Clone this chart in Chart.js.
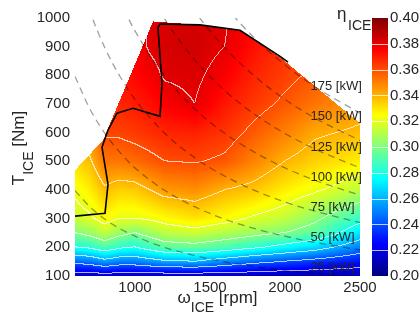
<!DOCTYPE html>
<html>
<head>
<meta charset="utf-8">
<script src="https://cdn.jsdelivr.net/npm/chart.js@4.4.1/dist/chart.umd.min.js"></script>
<style>
  html, body { margin: 0; padding: 0; background: #fff; }
  #wrap { width: 420px; height: 320px; }
</style>
</head>
<body>
<div id="wrap"><canvas id="map" width="420" height="320"></canvas></div>
<script>
// ICE efficiency map
const effRpm = [600, 700, 800, 900, 1000, 1100, 1200, 1400, 1600, 1800, 2000, 2200, 2500];
const effTorque = [100, 150, 200, 250, 300, 400, 500, 600, 700, 800, 900, 1000];
const effRows = [
    [0.212, 0.212, 0.214, 0.212, 0.212, 0.212, 0.212, 0.212, 0.212, 0.211, 0.210, 0.210, 0.210],
    [0.245, 0.248, 0.255, 0.250, 0.250, 0.254, 0.258, 0.260, 0.252, 0.245, 0.240, 0.235, 0.228],
    [0.280, 0.283, 0.290, 0.283, 0.280, 0.287, 0.293, 0.295, 0.290, 0.283, 0.275, 0.268, 0.250],
    [0.300, 0.305, 0.313, 0.305, 0.300, 0.306, 0.312, 0.315, 0.310, 0.305, 0.300, 0.293, 0.270],
    [0.315, 0.318, 0.325, 0.320, 0.320, 0.322, 0.325, 0.330, 0.325, 0.318, 0.313, 0.303, 0.285],
    [0.322, 0.328, 0.338, 0.334, 0.335, 0.340, 0.345, 0.347, 0.340, 0.336, 0.328, 0.322, 0.312],
    [0.332, 0.338, 0.352, 0.352, 0.354, 0.357, 0.360, 0.361, 0.358, 0.349, 0.340, 0.334, 0.328],
    [0.340, 0.348, 0.362, 0.362, 0.364, 0.366, 0.368, 0.369, 0.365, 0.357, 0.350, 0.342, 0.338],
    [0.345, 0.353, 0.366, 0.368, 0.370, 0.372, 0.376, 0.380, 0.371, 0.364, 0.358, 0.352, 0.345],
    [0.350, 0.357, 0.369, 0.372, 0.374, 0.377, 0.381, 0.382, 0.376, 0.368, 0.363, 0.358, 0.348],
    [0.352, 0.360, 0.371, 0.374, 0.376, 0.381, 0.383, 0.384, 0.380, 0.372, 0.365, 0.360, 0.350],
    [0.355, 0.362, 0.372, 0.375, 0.377, 0.381, 0.382, 0.384, 0.381, 0.374, 0.365, 0.360, 0.350]
];
const effLevels = [0.20, 0.22, 0.24, 0.26, 0.28, 0.30, 0.32, 0.34, 0.36, 0.38, 0.40];

// full load curve
const maxRpm = [600, 787, 1120, 1433, 1700, 1967, 2233, 2500];
const maxNm = [469, 574, 988, 976, 957, 863, 748, 633];

// optimal operating line
const optRpm = [600, 800, 820, 780, 820, 880, 987, 1167, 1180, 1153, 1167, 1433, 1700, 1967, 2020];
const optNm = [309, 319, 420, 549, 609, 668, 685, 657, 772, 967, 979, 976, 957, 866, 846];

// constant power lines
const powerRpm = [600, 700, 800, 900, 1000, 1200, 1400, 1600, 1800, 2000, 2200, 2500];
const powerNames = ['25 [kW]', '50 [kW]', '75 [kW]', '100 [kW]', '125 [kW]', '150 [kW]', '175 [kW]'];
const powerNm = [
    [398, 341, 298, 265, 239, 199, 171, 149, 133, 119, 109, 95.5],
    [796, 682, 597, 531, 477, 398, 341, 298, 265, 239, 217, 191],
    [1194, 1023, 895, 796, 716, 597, 512, 448, 398, 358, 326, 286],
    [1592, 1364, 1194, 1061, 955, 796, 682, 597, 531, 477, 434, 382],
    [1989, 1705, 1492, 1326, 1194, 995, 853, 746, 663, 597, 543, 477],
    [2387, 2046, 1791, 1592, 1432, 1194, 1023, 895, 796, 716, 651, 573],
    [2785, 2387, 2089, 1857, 1671, 1393, 1194, 1044, 928, 836, 760, 668]
];

const xTicks = [1000, 1500, 2000, 2500];
const FONT = "'Liberation Sans', Arial, sans-serif";
const TEXT = '#262626';

function jet(v) {
    const t = Math.min(1, Math.max(0, (v - 0.20) / 0.20));
    const c = k => Math.round(255 * Math.min(1, Math.max(0, 1.5 - Math.abs(4 * t - k))));
    return [c(3), c(2), c(1)];
}

function locate(arr, v) {
    let i = 0;
    while (i < arr.length - 2 && v > arr[i + 1]) i++;
    const f = Math.min(1, Math.max(0, (v - arr[i]) / (arr[i + 1] - arr[i])));
    return [i, f];
}

function lookup(xs, ys, v) {
    const [i, f] = locate(xs, v);
    return ys[i] + (ys[i + 1] - ys[i]) * f;
}

function effAt(rpm, nm) {
    const [i, fx] = locate(effRpm, rpm);
    const [j, fy] = locate(effTorque, nm);
    const lo = effRows[j][i] * (1 - fx) + effRows[j][i + 1] * fx;
    const hi = effRows[j + 1][i] * (1 - fx) + effRows[j + 1][i + 1] * fx;
    return lo * (1 - fy) + hi * fy;
}

function levelOf(v) {
    let k = -1;
    effLevels.forEach((l, n) => { if (v >= l) k = n; });
    return k;
}

// filled map + white iso lines, clipped to the full load curve
const mapPlugin = {
    id: 'effMap',
    beforeDatasetsDraw(chart) {
        const { ctx, chartArea: a, scales: { x, y } } = chart;
        const left = Math.round(a.left), top = Math.round(a.top);
        const w = Math.round(a.right) - left, h = Math.round(a.bottom) - top;
        const vals = new Float32Array(w * h);
        const lev = new Int16Array(w * h).fill(-99);
        for (let i = 0; i < w; i++) {
            const rpm = x.getValueForPixel(left + i + 0.5);
            const lim = lookup(maxRpm, maxNm, rpm);
            for (let j = 0; j < h; j++) {
                const nm = y.getValueForPixel(top + j + 0.5);
                if (nm > lim) continue;
                const v = effAt(rpm, nm);
                vals[j * w + i] = v;
                lev[j * w + i] = levelOf(v);
            }
        }
        const off = document.createElement('canvas');
        off.width = w; off.height = h;
        const octx = off.getContext('2d');
        const img = octx.createImageData(w, h);
        for (let j = 0; j < h; j++) {
            for (let i = 0; i < w; i++) {
                const k = j * w + i;
                if (lev[k] === -99) continue;
                let [r, g, b] = jet(vals[k]);
                const rt = i < w - 1 ? lev[k + 1] : -99;
                const dn = j < h - 1 ? lev[k + w] : -99;
                if ((rt !== -99 && rt !== lev[k]) || (dn !== -99 && dn !== lev[k])) {
                    r = r * 0.3 + 255 * 0.7; g = g * 0.3 + 255 * 0.7; b = b * 0.3 + 255 * 0.7;
                }
                img.data[k * 4] = r; img.data[k * 4 + 1] = g; img.data[k * 4 + 2] = b; img.data[k * 4 + 3] = 255;
            }
        }
        octx.putImageData(img, 0, 0);
        ctx.drawImage(off, left, top);

        // colour bar next to the plot, using its own scale
        const cb = chart.scales.cb;
        const cx = Math.round(cb.left) + 12;
        for (let py = Math.round(cb.top); py < Math.round(cb.bottom); py++) {
            const [r, g, b] = jet(cb.getValueForPixel(py + 0.5));
            ctx.fillStyle = `rgb(${r},${g},${b})`;
            ctx.fillRect(cx, py, 16, 1);
        }
        ctx.fillStyle = 'rgba(255,255,255,0.75)';
        effLevels.slice(1, -1).forEach(l => {
            ctx.fillRect(cx, Math.round(cb.getPixelForValue(l)), 16, 1);
        });
    },
    // power lines darken what is under them
    beforeDatasetDraw(chart, args) {
        if (args.index > 0) chart.ctx.globalCompositeOperation = 'multiply';
    },
    afterDatasetDraw(chart) {
        chart.ctx.globalCompositeOperation = 'source-over';
    },
    afterDraw(chart) {
        const { ctx, chartArea: a, scales: { x, y } } = chart;
        ctx.save();
        ctx.fillStyle = TEXT;
        ctx.textBaseline = 'middle';
        ctx.textAlign = 'left';
        ctx.font = `13px ${FONT}`;
        const labelNm = [131, 236, 340, 445, 549, 657, 762];
        powerNames.forEach((n, k) => {
            ctx.fillText(n, x.getPixelForValue(2170), y.getPixelForValue(labelNm[k]));
        });
        ctx.textBaseline = 'alphabetic';
        sub(ctx, '\u03c9', 'ICE', ' [rpm]', (a.left + a.right) / 2, 303, 0);
        sub(ctx, 'T', 'ICE', ' [Nm]', 24, (a.top + a.bottom) / 2 + 1, -Math.PI / 2);
        ctx.font = `17px ${FONT}`;
        ctx.fillText('\u03b7', 337, 19);
        ctx.font = `14px ${FONT}`;
        ctx.fillText('ICE', 348, 30);
        ctx.restore();
    }
};

function sub(ctx, main, low, tail, cx, cy, ang) {
    const parts = [[main, 17, 0], [low, 14, 9], [tail, 17, 0]];
    const ws = parts.map(p => { ctx.font = `${p[1]}px ${FONT}`; return ctx.measureText(p[0]).width; });
    let x0 = -ws.reduce((s, v) => s + v, 0) / 2;
    ctx.save();
    ctx.translate(cx, cy);
    ctx.rotate(ang);
    parts.forEach((p, k) => {
        ctx.font = `${p[1]}px ${FONT}`;
        ctx.fillText(p[0], x0, p[2]);
        x0 += ws[k];
    });
    ctx.restore();
}

const datasets = [{
    data: optRpm.map((r, k) => ({ x: r, y: optNm[k] })),
    borderColor: '#000',
    borderWidth: 1.6,
    pointRadius: 0,
    showLine: true
}];
powerNm.forEach(row => {
    datasets.push({
        data: powerRpm.map((r, k) => ({ x: r, y: row[k] })),
        borderColor: 'rgb(160,160,160)',
        borderWidth: 1.3,
        borderDash: [7, 5],
        pointRadius: 0,
        showLine: true,
        cubicInterpolationMode: 'monotone'
    });
});

new Chart(document.getElementById('map'), {
    type: 'scatter',
    data: { datasets },
    options: {
        responsive: false,
        animation: false,
        devicePixelRatio: 1,
        layout: { padding: { top: 18, left: 0, right: 0, bottom: 0 } },
        plugins: { legend: { display: false }, tooltip: { enabled: false } },
        scales: {
            x: {
                type: 'linear', min: 600, max: 2500,
                grid: { display: false, drawTicks: false },
                border: { display: false },
                ticks: { font: { size: 15, family: FONT }, color: TEXT, padding: 3, callback: v => String(v) },
                afterBuildTicks: s => { s.ticks = xTicks.map(v => ({ value: v })); },
                afterFit: s => { s.height = 44; }
            },
            y: {
                type: 'linear', min: 100, max: 1000,
                grid: { display: false, drawTicks: false },
                border: { display: false },
                ticks: { stepSize: 100, font: { size: 15, family: FONT }, color: TEXT, padding: 5, callback: v => String(v) },
                afterFit: s => { s.width = 75; }
            },
            cb: {
                type: 'linear', position: 'right', min: 0.20, max: 0.40,
                grid: { display: false, drawTicks: true, tickLength: 26 },
                border: { display: false },
                ticks: { stepSize: 0.02, font: { size: 15, family: FONT }, color: TEXT, padding: 4,
                    callback: v => v.toFixed(2) },
                afterFit: s => { s.width = 60; }
            }
        }
    },
    plugins: [mapPlugin]
});
</script>
</body>
</html>
